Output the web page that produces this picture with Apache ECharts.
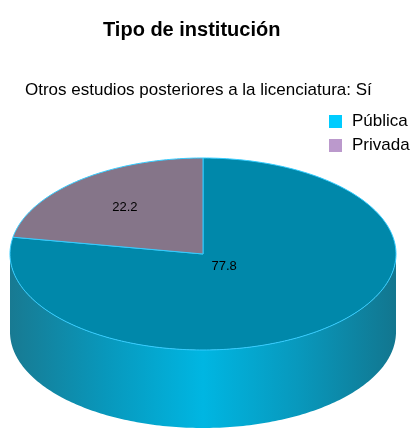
<!DOCTYPE html>
<html>
<head>
<meta charset="utf-8">
<script src="https://cdn.jsdelivr.net/npm/echarts@6/dist/echarts.min.js"></script>
<style>
html, body { margin: 0; padding: 0; background: #fff; }
#main { width: 414px; height: 430px; }
</style>
</head>
<body>
<div id="main"></div>
<script>
// datos del grafico
var categorias = ['Pública', 'Privada'];
var valores = [77.8, 22.2];

// estilos
var coloresTapa = ['#0088aa', '#857589'];
var coloresLeyenda = ['#00ccff', '#bb99cc'];
var factoresEtiqueta = [0.17, 0.63];

// geometria del pastel 3d
var cx = 203, cy = 254, rx = 193, ry = 96, alto = 78;

var total = valores.reduce(function(a, b) { return a + b; }, 0);

function pt(t, d) {
	var r = t * Math.PI / 180;
	return [cx + rx * Math.cos(r), cy - ry * Math.sin(r) + d];
}

function arco(a, b, d) {
	// puntos de a hacia b (grados)
	var pts = [];
	var paso = a < b ? 1 : -1;
	for (var t = a; paso > 0 ? t < b : t > b; t += paso) {
		pts.push(pt(t, d));
	}
	pts.push(pt(b, d));
	return pts;
}

var gradLado = new echarts.graphic.LinearGradient(cx - rx, 0, cx + rx, 0, [
	{ offset: 0, color: '#187a92' },
	{ offset: 0.25, color: '#0898bc' },
	{ offset: 0.5, color: '#00b6e2' },
	{ offset: 0.75, color: '#0898bc' },
	{ offset: 1, color: '#12768f' }
], true);

function hacerRender(idx) {
	return function(params, api) {
		var antes = 0;
		for (var i = 0; i < idx; i++) antes += valores[i];
		var v = api.value(0);
		var s = 90 - 360 * antes / total;
		var e = s - 360 * v / total;
		var hijos = [];

		// lado visible (mitad frontal)
		for (var k = -2; k <= 1; k++) {
			var lo = -180 + 360 * k, hi = 360 * k;
			var a = Math.max(e, lo), b = Math.min(s, hi);
			if (b > a) {
				var pts = arco(a, b, 0).concat(arco(b, a, alto));
				hijos.push({
					type : 'polygon',
					shape : { points : pts },
					style : { fill : gradLado },
					z2 : 1
				});
			}
		}

		// tapa
		var tapa = [[cx, cy]].concat(arco(s, e, 0));
		hijos.push({
			type : 'polygon',
			shape : { points : tapa },
			style : { fill : api.visual('color'), stroke : '#33ccff', lineWidth : 1 },
			z2 : 10
		});

		// etiqueta
		var m = (s + e) / 2 * Math.PI / 180;
		var f = factoresEtiqueta[idx];
		hijos.push({
			type : 'text',
			x : cx + f * rx * Math.cos(m),
			y : cy - f * ry * Math.sin(m),
			style : {
				text : v.toFixed(1),
				fill : '#000',
				font : '13px "Liberation Sans", Arial, sans-serif',
				align : 'center',
				verticalAlign : 'middle'
			},
			z2 : 20
		});
		return { type : 'group', children : hijos };
	};
}

var series = categorias.map(function(nombre, i) {
	return {
		name : nombre,
		type : 'custom',
		coordinateSystem : 'none',
		itemStyle : { color : coloresTapa[i] },
		renderItem : hacerRender(i),
		data : [[valores[i]]]
	};
});

var myChart = echarts.init(document.getElementById('main'));
var option = {
	animation : false,
	textStyle : { fontFamily : '"Liberation Sans", Arial, sans-serif' },
	title : [ {
		text : 'Tipo de institución',
		left : 98,
		top : 15,
		textStyle : { fontSize : 20, fontWeight : 'bold', color : '#000' }
	}, {
		text : 'Otros estudios posteriores a la licenciatura: Sí',
		left : 20,
		top : 77,
		textStyle : { fontSize : 17, fontWeight : 'normal', color : '#000' }
	} ],
	legend : {
		orient : 'vertical',
		left : 324,
		top : 108,
		itemWidth : 13,
		itemHeight : 13,
		itemGap : 7,
		icon : 'rect',
		selectedMode : false,
		textStyle : { fontSize : 17, color : '#000', padding : [0, 0, 0, 5] },
		data : categorias.map(function(n, i) {
			return { name : n, itemStyle : { color : coloresLeyenda[i] } };
		})
	},
	series : series
};
myChart.setOption(option);
</script>
</body>
</html>
